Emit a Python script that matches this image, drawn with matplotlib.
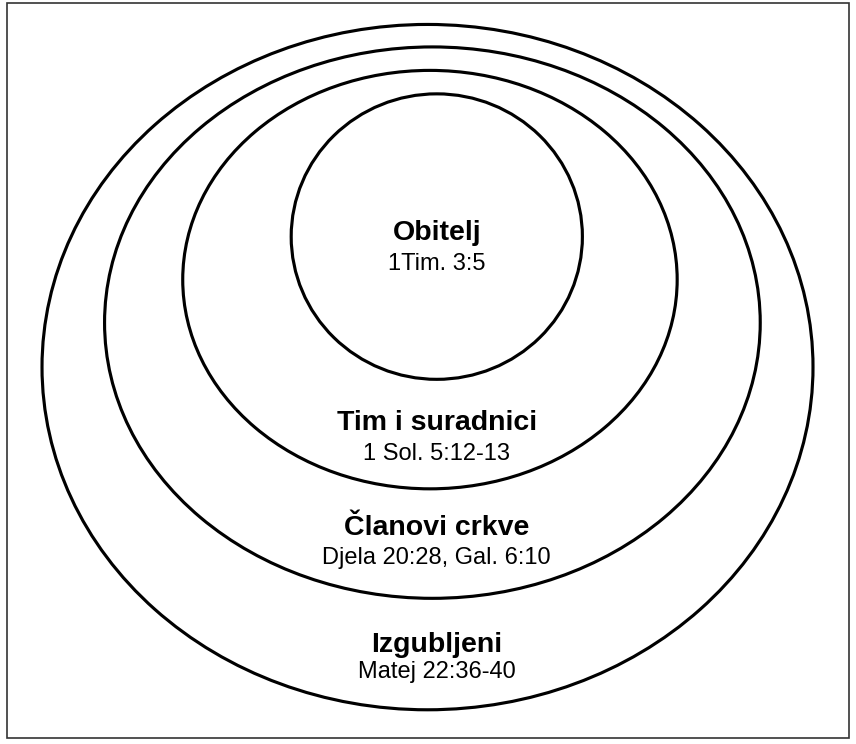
import matplotlib
matplotlib.use("Agg")
import matplotlib.pyplot as plt
from matplotlib.patches import Ellipse, Rectangle

# Data: rings from innermost to outermost
ring_names = ["Obitelj", "Tim i suradnici", "Članovi crkve", "Izgubljeni"]
ring_refs = ["1Tim. 3:5", "1 Sol. 5:12-13", "Djela 20:28, Gal. 6:10", "Matej 22:36-40"]

# Layout in source-pixel space (y downward); the canvas is a slightly
# larger source scaled to 856x744
SRC_W, SRC_H = 876, 761
ell_cx = [447, 440, 442.5, 437.5]
ell_cy = [242, 286, 330, 375.5]
ell_w = [298, 506, 671, 789]
ell_h = [292, 428, 564, 701]
title_base = [245, 440, 547, 667]
ref_base = [276, 470, 577, 694]
text_x = 447

W, H = 856, 744
fig = plt.figure(figsize=(W / 100, H / 100), dpi=100)
ax = fig.add_axes([0, 0, 1, 1])
ax.set_xlim(0, SRC_W)
ax.set_ylim(SRC_H, 0)
ax.axis("off")

# Frame
ax.add_patch(Rectangle((7, 3.5), 862, 751, fill=False, edgecolor="#333333", lw=1.2))

for i in range(len(ring_names)):
    e = Ellipse((ell_cx[i], ell_cy[i]), ell_w[i], ell_h[i], fill=False,
                edgecolor="black", lw=2.25)
    ax.add_patch(e)
    ax.text(text_x, title_base[i], ring_names[i], ha="center", va="baseline",
            fontsize=20.5, fontweight="bold", family="Liberation Sans", color="black")
    ax.text(text_x, ref_base[i], ring_refs[i], ha="center", va="baseline",
            fontsize=17, family="Liberation Sans", color="black")

fig.savefig("out.png", dpi=100, facecolor="white")
